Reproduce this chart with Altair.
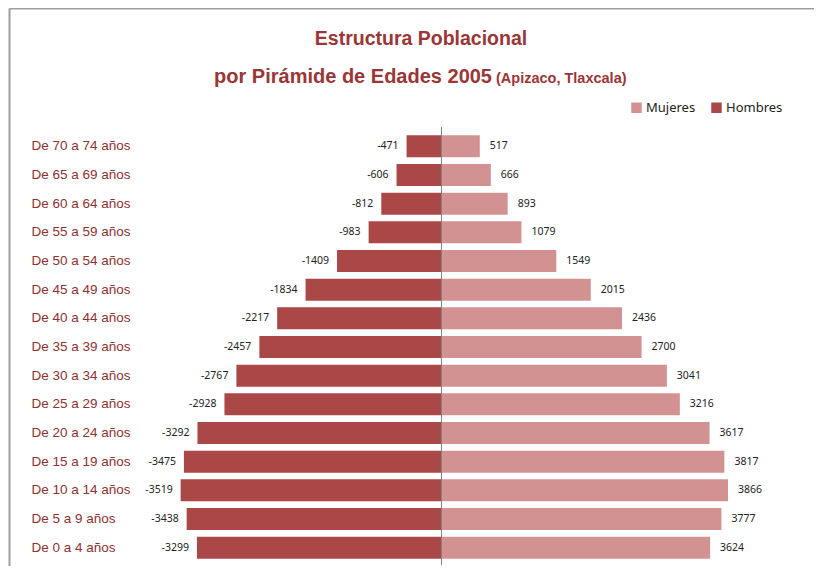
import altair as alt
import pandas as pd

edades = ["De 70 a 74 años", "De 65 a 69 años", "De 60 a 64 años", "De 55 a 59 años",
          "De 50 a 54 años", "De 45 a 49 años", "De 40 a 44 años", "De 35 a 39 años",
          "De 30 a 34 años", "De 25 a 29 años", "De 20 a 24 años", "De 15 a 19 años",
          "De 10 a 14 años", "De 5 a 9 años", "De 0 a 4 años"]
hombres = [-471, -606, -812, -983, -1409, -1834, -2217, -2457, -2767, -2928,
           -3292, -3475, -3519, -3438, -3299]
mujeres = [517, 666, 893, 1079, 1549, 2015, 2436, 2700, 3041, 3216,
           3617, 3817, 3866, 3777, 3624]
series = ["Mujeres", "Hombres"]
colores = ["#D39292", "#AA4747"]

rows = []
for e, h, m in zip(edades, hombres, mujeres):
    rows.append({"edad": e, "sexo": "Hombres", "valor": h, "etiqueta": str(h)})
    rows.append({"edad": e, "sexo": "Mujeres", "valor": m, "etiqueta": str(m)})
df = pd.DataFrame(rows)

W, H = 630, 430
PL, PT = 137, 124

xs = alt.Scale(domain=[-4000, 4500], nice=False, zero=False)
ys = alt.Scale(domain=edades, paddingInner=0.23, paddingOuter=0.115)

base = alt.Chart(df)

bars = base.mark_bar().encode(
    x=alt.X("valor:Q", scale=xs, axis=None, stack=None),
    x2=alt.datum(0),
    y=alt.Y("edad:N", scale=ys, sort=edades, title=None,
            axis=alt.Axis(labelAlign="left", labelPadding=114, labelFontSize=13.5,
                          labelColor="#8E3131", labelFont="Liberation Sans",
                          domain=False, ticks=False, grid=False)),
    color=alt.Color("sexo:N", scale=alt.Scale(domain=series, range=colores),
                    legend=alt.Legend(title=None, orient="none", legendX=485, legendY=-31,
                                      direction="horizontal", symbolType="square",
                                      symbolSize=110, symbolStrokeWidth=0,
                                      labelFontSize=13, labelFont="Noto Sans",
                                      labelColor="#222222", columnPadding=14,
                                      symbolOffset=0, labelOffset=3)),
)

lab_h = alt.Chart(df[df.sexo == "Hombres"]).mark_text(
    align="right", baseline="middle", dx=-8, fontSize=10.5, font="Noto Sans", color="#222222"
).encode(x=alt.X("valor:Q", scale=xs), y=alt.Y("edad:N", scale=ys, sort=edades),
         text="etiqueta:N")

lab_m = alt.Chart(df[df.sexo == "Mujeres"]).mark_text(
    align="left", baseline="middle", dx=10, fontSize=10.5, font="Noto Sans", color="#222222"
).encode(x=alt.X("valor:Q", scale=xs), y=alt.Y("edad:N", scale=ys, sort=edades),
         text="etiqueta:N")

center = alt.Chart(pd.DataFrame({"z": [0]})).mark_rule(color="#808080", strokeWidth=1).encode(
    x=alt.X("z:Q", scale=xs), y=alt.value(-5), y2=alt.value(H + 3))

frame_top = alt.Chart(pd.DataFrame({"z": [0]})).mark_rule(color="#9E9E9E", strokeWidth=2).encode(
    x=alt.value(-PL + 1.5), x2=alt.value(W + 120), y=alt.value(-PT + 0.5))
frame_left = alt.Chart(pd.DataFrame({"z": [0]})).mark_rule(color="#9E9E9E", strokeWidth=2).encode(
    x=alt.value(-PL + 1.5), y=alt.value(-PT + 0.5), y2=alt.value(H + 30))

title_col = "#9A3636"
t1 = alt.Chart(pd.DataFrame({"t": ["Estructura Poblacional"]})).mark_text(
    align="center", baseline="alphabetic", fontSize=19.5, fontWeight="bold",
    font="Liberation Sans", color=title_col
).encode(x=alt.value(421 - 8 - PL), y=alt.value(45 - 8 - PT), text="t:N")
t2 = alt.Chart(pd.DataFrame({"t": ["por Pirámide de Edades 2005"]})).mark_text(
    align="right", baseline="alphabetic", fontSize=20, fontWeight="bold",
    font="Liberation Sans", color=title_col
).encode(x=alt.value(492 - 8 - PL), y=alt.value(83 - 8 - PT), text="t:N")
t3 = alt.Chart(pd.DataFrame({"t": ["(Apizaco, Tlaxcala)"]})).mark_text(
    align="left", baseline="alphabetic", fontSize=14.5, fontWeight="bold",
    font="Liberation Sans", color=title_col
).encode(x=alt.value(496 - 8 - PL), y=alt.value(83 - 8 - PT), text="t:N")

chart = alt.layer(frame_top, frame_left, bars, center, lab_h, lab_m, t1, t2, t3).properties(
    width=W, height=H,
    autosize=alt.AutoSizeParams(type="none"),
    padding={"left": PL, "top": PT, "right": 806 - PL - W, "bottom": 558 - PT - H},
    background="white",
).configure_view(stroke=None)

chart.save("out.html", embed_options={"renderer": "svg", "actions": False})
